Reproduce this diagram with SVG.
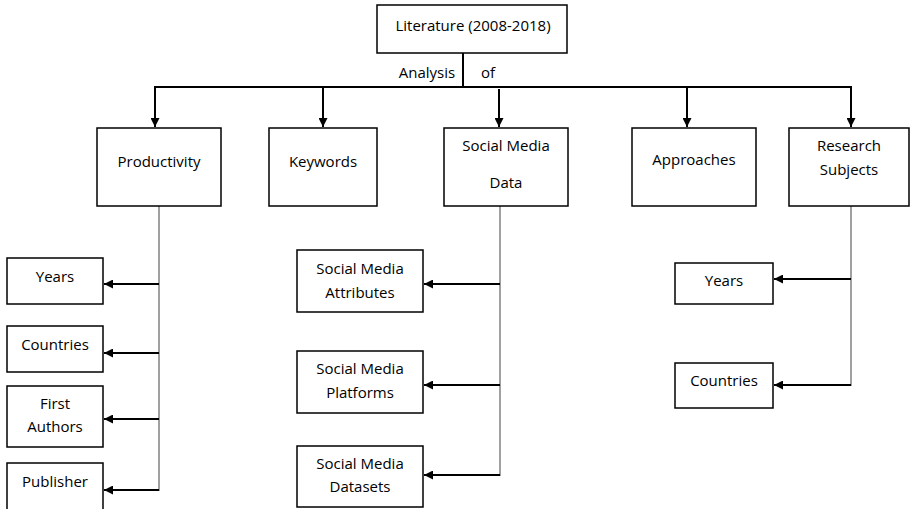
<svg xmlns="http://www.w3.org/2000/svg" width="911" height="509" viewBox="0 0 911 509">
<defs>
<marker id="ah" viewBox="0 0 10 10" refX="10" refY="5" markerWidth="9" markerHeight="9" markerUnits="userSpaceOnUse" orient="auto">
<path d="M0,0 L10,5 L0,10 z" fill="#000"/>
</marker>
<style>
.box{fill:#fff;stroke:#000;stroke-width:1.5}
text{font-family:"Open Sans","Liberation Sans",sans-serif;font-size:15px;fill:#000;text-anchor:middle}
.c{fill:none;stroke:#000;stroke-width:2}
.g{fill:none;stroke:#808080;stroke-width:1.5}
.a{fill:none;stroke:#000;stroke-width:2;marker-end:url(#ah)}
</style>
</defs>
<rect width="911" height="509" fill="#fff"/>
<g id="connectors">
<line class="c" x1="463" y1="53" x2="463" y2="87"/>
<line class="c" x1="154" y1="87" x2="852" y2="87"/>
<line class="a" x1="155" y1="87" x2="155" y2="127"/>
<line class="a" x1="323" y1="87" x2="323" y2="127"/>
<line class="a" x1="499" y1="89" x2="499" y2="127"/>
<line class="a" x1="687" y1="87" x2="687" y2="127"/>
<line class="a" x1="851" y1="87" x2="851" y2="127"/>
<line class="g" x1="159" y1="206" x2="159" y2="491"/>
<line class="a" x1="159" y1="284" x2="104" y2="284"/>
<line class="a" x1="159" y1="353" x2="104" y2="353"/>
<line class="a" x1="159" y1="419" x2="104" y2="419"/>
<line class="a" x1="159" y1="490" x2="104" y2="490"/>
<line class="g" x1="500" y1="206" x2="500" y2="476"/>
<line class="a" x1="500" y1="284" x2="424" y2="284"/>
<line class="a" x1="500" y1="385" x2="424" y2="385"/>
<line class="a" x1="500" y1="475" x2="424" y2="475"/>
<line class="g" x1="851" y1="206" x2="851" y2="386"/>
<line class="a" x1="851" y1="279" x2="774" y2="279"/>
<line class="a" x1="851" y1="385" x2="774" y2="385"/>
</g>
<g id="label-analysis"><text x="427" y="78">Analysis</text><text x="488" y="78">of</text></g>
<g id="literature"><rect class="box" x="377" y="5" width="190" height="48"/><text x="473" y="31">Literature (2008-2018)</text></g>
<g id="productivity"><rect class="box" x="97" y="128" width="124" height="78"/><text x="159" y="167">Productivity</text></g>
<g id="keywords"><rect class="box" x="269" y="128" width="108" height="78"/><text x="323" y="167">Keywords</text></g>
<g id="smdata"><rect class="box" x="444" y="128" width="124" height="78"/><text x="506" y="151">Social Media</text><text x="506" y="188">Data</text></g>
<g id="approaches"><rect class="box" x="632" y="128" width="124" height="78"/><text x="694" y="165">Approaches</text></g>
<g id="research"><rect class="box" x="789" y="128" width="120" height="78"/><text x="849" y="151">Research</text><text x="849" y="175">Subjects</text></g>
<g id="p-years"><rect class="box" x="7" y="258" width="96" height="46"/><text x="55" y="282">Years</text></g>
<g id="p-countries"><rect class="box" x="7" y="326" width="96" height="46"/><text x="55" y="350">Countries</text></g>
<g id="p-authors"><rect class="box" x="7" y="386" width="96" height="61"/><text x="55" y="409">First</text><text x="55" y="432">Authors</text></g>
<g id="p-publisher"><rect class="box" x="7" y="463" width="96" height="50"/><text x="55" y="487">Publisher</text></g>
<g id="sm-attributes"><rect class="box" x="297" y="250" width="126" height="62"/><text x="360" y="274">Social Media</text><text x="360" y="298">Attributes</text></g>
<g id="sm-platforms"><rect class="box" x="297" y="351" width="126" height="62"/><text x="360" y="374">Social Media</text><text x="360" y="398">Platforms</text></g>
<g id="sm-datasets"><rect class="box" x="297" y="446" width="126" height="61"/><text x="360" y="469">Social Media</text><text x="360" y="492">Datasets</text></g>
<g id="r-years"><rect class="box" x="675" y="263" width="98" height="41"/><text x="724" y="286">Years</text></g>
<g id="r-countries"><rect class="box" x="675" y="363" width="98" height="45"/><text x="724" y="386">Countries</text></g>
</svg>
